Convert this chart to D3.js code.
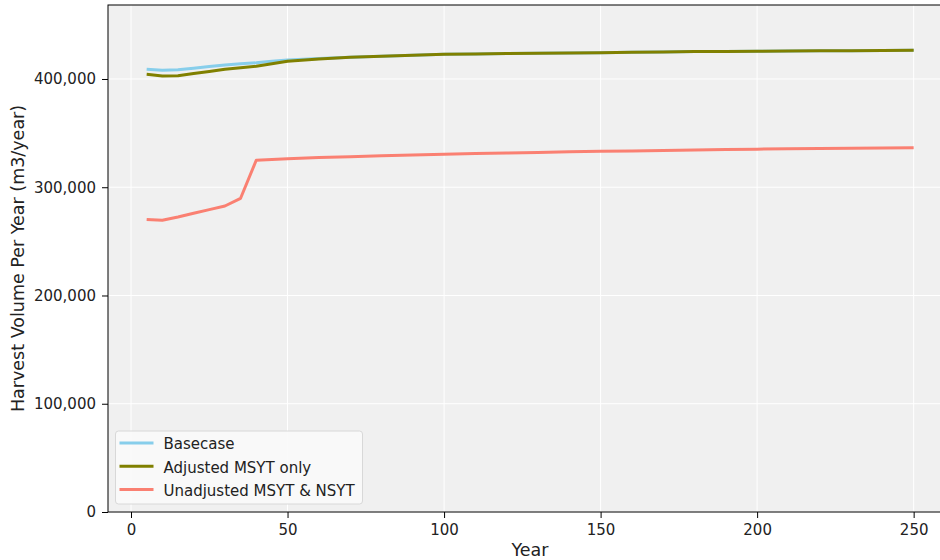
<!DOCTYPE html>
<html>
<head>
<meta charset="utf-8">
<script src="https://cdn.jsdelivr.net/npm/d3@7"></script>
<style>
  html, body { margin: 0; padding: 0; background: #fff; }
  svg { display: block; font-family: "DejaVu Sans", sans-serif; }
</style>
</head>
<body>
<svg id="chart" width="940" height="560"></svg>
<script>
// Simulation years
const years = [5, 10, 15, 20, 25, 30, 35, 40, 45, 50, 60, 70, 80, 90, 100, 110, 120, 130, 140, 150, 160, 170, 180, 190, 200, 210, 220, 230, 240, 250];

// Harvest volume (m3/year) per scenario
const basecase = [409000, 408000, 408500, 410000, 411500, 413000, 414000, 415000, 416500, 417500, 419000, 420000, 421000, 422000, 422800, 423200, 423600, 423900, 424100, 424300, 424700, 425000, 425300, 425500, 425700, 425900, 426000, 426200, 426300, 426500];
const adjusted = [404300, 402800, 403000, 405000, 407000, 409000, 410300, 411800, 414000, 416300, 418500, 420000, 421000, 422000, 422800, 423200, 423600, 423900, 424100, 424300, 424700, 425000, 425300, 425500, 425700, 425900, 426000, 426200, 426300, 426500];
const unadjusted = [270300, 269500, 272500, 276000, 279300, 282700, 289800, 324900, 325700, 326400, 327400, 328200, 329000, 329800, 330500, 331100, 331700, 332200, 332700, 333200, 333600, 334000, 334400, 334800, 335200, 335500, 335800, 336100, 336300, 336500];

const seriesNames = ["Basecase", "Adjusted MSYT only", "Unadjusted MSYT & NSYT"];
const seriesColors = ["#87CEEB", "#808000", "#FA8072"];
const xTicks = [0, 50, 100, 150, 200, 250];
const yTicks = [0, 100000, 200000, 300000, 400000];

const series = [basecase, adjusted, unadjusted].map((vals, i) => ({
  name: seriesNames[i],
  color: seriesColors[i],
  points: years.map((y, j) => ({ x: y, y: vals[j] }))
}));

const svg = d3.select("#chart");
const plot = { left: 108, top: 5, right: 952, bottom: 512 };

const x = d3.scaleLinear().domain([-7.35, 262.25]).range([plot.left, plot.right]);
const y = d3.scaleLinear().domain([0, 468360]).range([plot.bottom, plot.top]);

// Plot background
svg.append("rect")
  .attr("x", plot.left).attr("y", plot.top)
  .attr("width", plot.right - plot.left).attr("height", plot.bottom - plot.top)
  .attr("fill", "#f0f0f0");

// Grid
const grid = svg.append("g").attr("stroke", "#ffffff").attr("stroke-width", 1);
xTicks.forEach(t => grid.append("line")
  .attr("x1", x(t)).attr("x2", x(t)).attr("y1", plot.top).attr("y2", plot.bottom));
yTicks.forEach(t => grid.append("line")
  .attr("x1", plot.left).attr("x2", plot.right).attr("y1", y(t)).attr("y2", y(t)));

// Lines
const line = d3.line().x(d => x(d.x)).y(d => y(d.y));
svg.append("g").selectAll("path").data(series).join("path")
  .attr("d", d => line(d.points))
  .attr("fill", "none")
  .attr("stroke", d => d.color)
  .attr("stroke-width", 3)
  .attr("stroke-linejoin", "round")
  .attr("stroke-linecap", "butt");

// Frame
svg.append("rect")
  .attr("x", plot.left).attr("y", plot.top)
  .attr("width", plot.right - plot.left).attr("height", plot.bottom - plot.top)
  .attr("fill", "none").attr("stroke", "#000").attr("stroke-width", 1);

// Axes
const fmt = d3.format(",");
const xAxis = svg.append("g")
  .attr("transform", `translate(0,${plot.bottom})`)
  .call(d3.axisBottom(x).tickValues(xTicks).tickSize(6).tickPadding(6).tickFormat(d3.format("d")));
const yAxis = svg.append("g")
  .attr("transform", `translate(${plot.left},0)`)
  .call(d3.axisLeft(y).tickValues(yTicks).tickSize(6).tickPadding(6).tickFormat(fmt));
[xAxis, yAxis].forEach(a => {
  a.select(".domain").remove();
  a.selectAll(".tick line").attr("stroke", "#000");
  a.selectAll(".tick text").attr("fill", "#222").style("font-size", "15px")
    .style("font-family", "DejaVu Sans, sans-serif");
});

// Axis titles
svg.append("text")
  .attr("x", (plot.left + plot.right) / 2).attr("y", 556)
  .attr("text-anchor", "middle").attr("fill", "#222").style("font-size", "17.5px")
  .text("Year");
svg.append("text")
  .attr("transform", `translate(23.5,${(plot.top + plot.bottom) / 2}) rotate(-90)`)
  .attr("text-anchor", "middle").attr("fill", "#222").style("font-size", "17.5px")
  .text("Harvest Volume Per Year (m3/year)");

// Legend
const legend = svg.append("g").attr("transform", "translate(115.5,431)");
legend.append("rect")
  .attr("width", 247).attr("height", 73).attr("rx", 3)
  .attr("fill", "#fafafa").attr("fill-opacity", 0.9)
  .attr("stroke", "#d8d8d8");
series.forEach((s, i) => {
  const gy = 12 + i * 23.3;
  legend.append("line")
    .attr("x1", 4).attr("x2", 38).attr("y1", gy).attr("y2", gy)
    .attr("stroke", s.color).attr("stroke-width", 3);
  legend.append("text")
    .attr("x", 48).attr("y", gy + 6.3).attr("fill", "#222").style("font-size", "15px")
    .text(s.name);
});
</script>
</body>
</html>
